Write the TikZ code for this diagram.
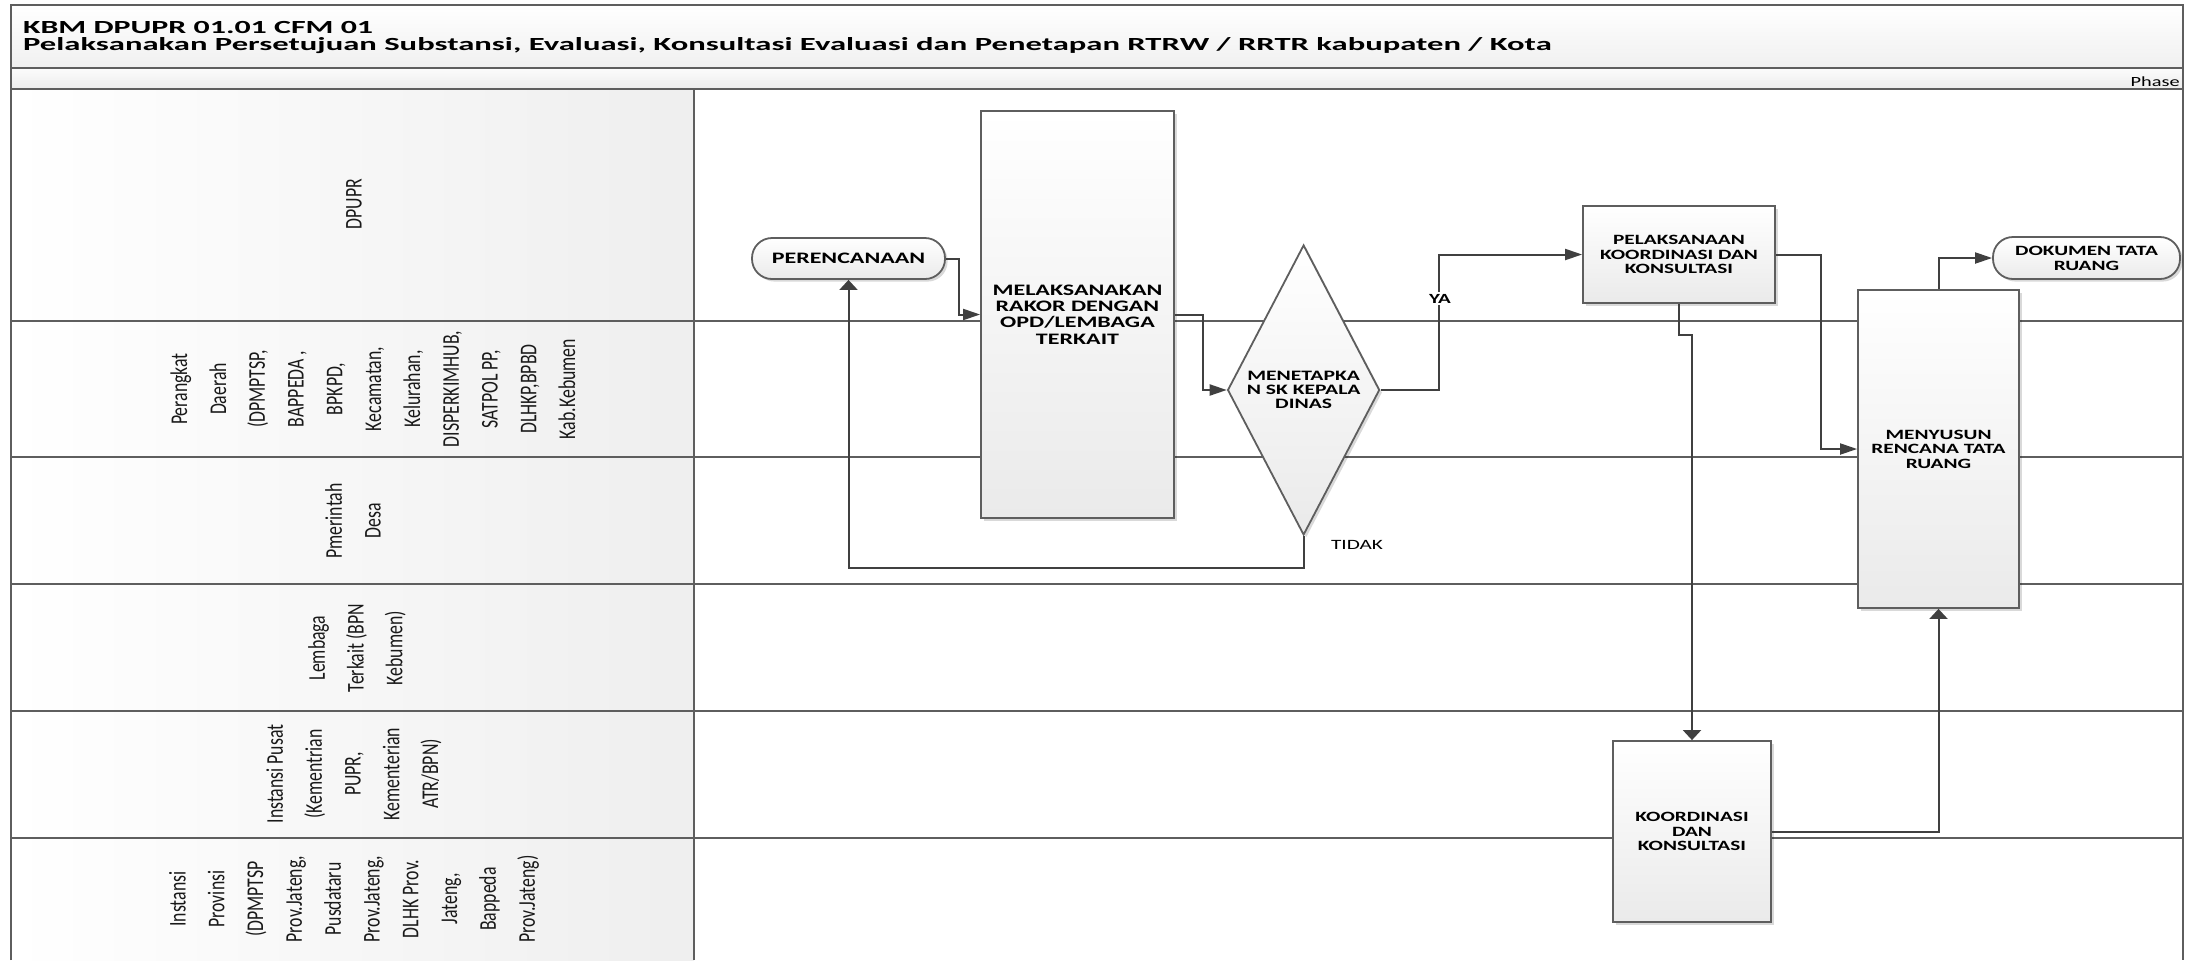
\documentclass[tikz,border=0pt]{standalone}
\usepackage{fontspec}
\usepackage{graphicx}
\setmainfont{Carlito}
\newfontfamily\widefont[FakeStretch=1.5]{Carlito}
\newfontfamily\narrowfont[FakeStretch=0.74]{Carlito}
\usetikzlibrary{arrows.meta,shapes.geometric,shadows}
\definecolor{lineg}{HTML}{5E5E5E}
\definecolor{conng}{HTML}{404040}
\definecolor{boxb}{HTML}{EAEAEA}
\begin{document}
\begin{tikzpicture}[x=0.5pt,y=-0.5pt,
  lanel/.style={draw=lineg, line width=1pt},
  shbox/.style={draw=lineg, line width=0.9pt, top color=white, bottom color=boxb,
    drop shadow={shadow xshift=1.3pt, shadow yshift=-1.3pt, fill=black, opacity=0.15},
    inner sep=0pt, align=center, text=black,
    font=\widefont\bfseries\fontsize{7.1}{7.3}\selectfont},
  termbox/.style={shbox, rounded corners=10pt},
  decbox/.style={shbox, diamond, inner sep=0pt},
  intext/.style={inner sep=0pt, align=center, font=\widefont\bfseries\fontsize{7.2}{7.1}\selectfont},
  lanetxt/.style={rotate=90, inner sep=0pt, align=center, text=black!90,
    font=\narrowfont\fontsize{12}{19.4}\selectfont},
  conn/.style={draw=conng, line width=1pt},
  harr/.style={-{Triangle[length=8.5pt,width=5.5pt]}},
  varr/.style={-{Triangle[length=5pt,width=9pt]}},
  flowlbl/.style={inner sep=1pt, font=\widefont\fontsize{7.1}{8}\selectfont}
]
\useasboundingbox (0,0) rectangle (2185,960);
% bands
\shade[top color=white,bottom color=gray!12] (11,5) rectangle (2183,68);
\shade[top color=gray!3,bottom color=gray!14] (11,68) rectangle (2183,89);
\foreach \ya/\yb in {89/320.5,320.5/457,457/584,584/711,711/837.5,837.5/960}
  \shade[left color=white,right color=gray!13] (11,\ya) rectangle (694,\yb);
% frame and lanes
\draw[lanel] (11,960) -- (11,5) -- (2183,5) -- (2183,960);
\draw[lanel] (11,68) -- (2183,68);
\draw[lanel] (11,89) -- (2183,89);
\foreach \y in {320.5,457,584,711,837.5} \draw[lanel] (11,\y) -- (2183,\y);
\draw[lanel] (694,89) -- (694,960);
% titles
\node[anchor=base west, inner sep=0pt] (t1) at (22.7,33.3)
  {\resizebox{175pt}{\height}{\bfseries\fontsize{9.25}{10}\selectfont KBM DPUPR 01.01 CFM 01}};
\node[anchor=base west, inner sep=0pt] (t2) at (22.7,50)
  {\resizebox{764pt}{\height}{\bfseries\fontsize{9.25}{10}\selectfont Pelaksanakan Persetujuan Substansi, Evaluasi, Konsultasi Evaluasi dan Penetapan RTRW / RRTR kabupaten / Kota}};
\node[anchor=base east, inner sep=0pt] (phase) at (2180,86)
  {\resizebox{24.5pt}{\height}{\fontsize{7}{8}\selectfont Phase}};
% lane labels
\node[lanetxt] (l1) at (354,204) {DPUPR};
\node[lanetxt] (l2) at (373,389) {Perangkat\\Daerah\\(DPMPTSP,\\BAPPEDA ,\\BPKPD,\\Kecamatan,\\Kelurahan,\\DISPERKIMHUB,\\SATPOL PP,\\DLHKP,BPBD\\Kab.Kebumen};
\node[lanetxt] (l3) at (353,521) {Pmerintah\\Desa};
\node[lanetxt] (l4) at (357,648) {Lembaga\\Terkait (BPN\\Kebumen)};
\node[lanetxt] (l5) at (354,774) {Instansi Pusat\\(Kementrian\\PUPR,\\Kementerian\\ATR/BPN)};
\node[lanetxt] (l6) at (354,899) {Instansi\\Provinsi\\(DPMPTSP\\Prov.Jateng,\\Pusdataru\\Prov.Jateng,\\DLHK Prov.\\Jateng,\\Bappeda\\Prov.Jateng)};
% shapes
\node[termbox, minimum width=96.5pt, minimum height=20.5pt,
  font=\widefont\bfseries\fontsize{8}{8.2}\selectfont] (per) at (848.5,258.5) {PERENCANAAN};
\node[shbox, minimum width=96.5pt, minimum height=203.5pt,
  font=\widefont\bfseries\fontsize{8}{8.15}\selectfont] (rakor) at (1077.5,314.5)
  {MELAKSANAKAN\\RAKOR DENGAN\\OPD/LEMBAGA\\TERKAIT};
\node[decbox, minimum width=76pt, minimum height=145pt] (sk) at (1303.6,390) {};
\node[intext] (sktxt) at (sk.center) {MENETAPKA\\N SK KEPALA\\DINAS};
\node[shbox, minimum width=96pt, minimum height=48.5pt] (pel) at (1679,254.5)
  {PELAKSANAAN\\KOORDINASI DAN\\KONSULTASI};
\node[shbox, minimum width=80.5pt, minimum height=159pt] (meny) at (1938.5,449)
  {MENYUSUN\\RENCANA TATA\\RUANG};
\node[termbox, minimum width=93.5pt, minimum height=21pt,
  font=\widefont\bfseries\fontsize{7.1}{7.5}\selectfont] (dok) at (2086.5,258)
  {DOKUMEN TATA\\RUANG};
\node[shbox, minimum width=79pt, minimum height=90.5pt] (koord) at (1692,831.5)
  {KOORDINASI\\DAN\\KONSULTASI};
% connectors
\draw[conn,harr] (per.east) -- ++(13,0) |- (rakor.west);
\draw[conn,harr] (rakor.east) -- ++(28,0) |- (sk.west);
\draw[conn,harr] (sk.east) -- ++(58,0) |- (pel.west);
\draw[conn,varr] (sk.south) -- ++(0,32) -| (per.south);
\draw[conn,harr] (pel.east) -- ++(45,0) |- (meny.west);
\draw[conn,varr] (pel.south) -- ++(0,31) -| (koord.north);
\draw[conn,varr] (koord.east) -| (meny.south);
\draw[conn,harr] (meny.north) |- (dok.west);
% labels
\node[flowlbl, fill=white, font=\widefont\bfseries\fontsize{7}{8}\selectfont] (ya) at (1440,298.5) {YA};
\node[flowlbl] (tidak) at (1357,545) {TIDAK};
\end{tikzpicture}
\end{document}
